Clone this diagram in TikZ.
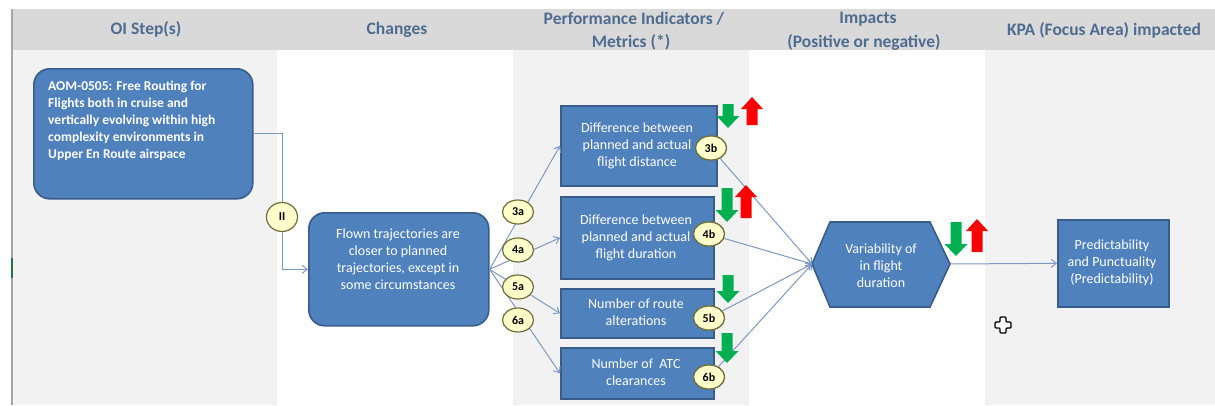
\documentclass[tikz,border=0pt]{standalone}
\usepackage{fontspec}
\setmainfont{Carlito}
\usetikzlibrary{arrows.meta,shapes.geometric}
\definecolor{boxfill}{HTML}{4F81BD}
\definecolor{boxline}{HTML}{385D8A}
\definecolor{conn}{HTML}{7D98C3}
\definecolor{hdr}{HTML}{D9D9D9}
\definecolor{colg}{HTML}{F2F2F2}
\definecolor{hdrtext}{HTML}{4E6C90}
\definecolor{badgefill}{HTML}{FFFFCC}
\definecolor{badgeline}{HTML}{6F6F3A}
\definecolor{okgreen}{HTML}{00B050}
\definecolor{badred}{HTML}{FF0000}
\definecolor{xlgreen}{HTML}{217346}
\newcommand\GDown[3]{\fill[okgreen] ({#1-5.5},#2) -- ({#1+5.5},#2) -- ({#1+5.5},{#3-12}) -- ({#1+11.5},{#3-12}) -- (#1,#3) -- ({#1-11.5},{#3-12}) -- ({#1-5.5},{#3-12}) -- cycle;}
\newcommand\RUp[3]{\fill[badred] ({#1-5.5},#3) -- ({#1+5.5},#3) -- ({#1+5.5},{#2+12}) -- ({#1+11},{#2+12}) -- (#1,#2) -- ({#1-11},{#2+12}) -- ({#1-5.5},{#2+12}) -- cycle;}
\begin{document}
\begin{tikzpicture}[x=1pt,y=-1pt,
  hdrlabel/.style={text=hdrtext,font=\fontsize{17.5}{21}\selectfont\bfseries,inner sep=0pt},
  box/.style={draw=boxline,line width=1.6pt,fill=boxfill,anchor=north west,inner sep=0pt},
  rbox/.style={box,rounded corners=16pt},
  boxtext/.style={text=white,font=\fontsize{14}{17}\selectfont,align=center,inner sep=0pt},
  badge/.style={ellipse,draw=badgeline,line width=1.2pt,fill=badgefill,minimum width=31pt,minimum height=24pt,inner sep=0pt,font=\fontsize{12}{14}\selectfont\bfseries},
  conn/.style={draw=conn,line width=1pt},
  arr/.style={conn,-{Straight Barb[length=5pt,width=8pt]}}]
\useasboundingbox (0,0) rectangle (1215,405);
% backgrounds
\fill[hdr] (12,9) rectangle (1215,50);
\fill[colg] (12,50) rectangle (277,405);
\fill[colg] (513,50) rectangle (749,405);
\fill[colg] (985,50) rectangle (1215,405);
\draw[gray!70,line width=1.2pt] (12,9) -- (12,405);
\draw[xlgreen,line width=2pt] (12,258) -- (12,278);
% header
\node[hdrlabel] (h1) at (146,29) {OI Step(s)};
\node[hdrlabel] (h2) at (397,30) {Changes};
\node[hdrlabel] (h3a) at (634,19) {Performance Indicators /};
\node[hdrlabel] (h3b) at (631,42) {Metrics (*)};
\node[hdrlabel] (h4a) at (868,19) {Impacts};
\node[hdrlabel] (h4b) at (864,42) {(Positive or negative)};
\node[hdrlabel] (h5) at (1104,30) {KPA (Focus Area) impacted};
% boxes
\node[rbox,minimum width=219pt,minimum height=130pt] (aom) at (33,68) {};
\node[rbox,minimum width=180pt,minimum height=113pt] (flown) at (308,212) {};
\node[box,minimum width=156pt,minimum height=80pt] (m3) at (560,105) {};
\node[box,minimum width=153pt,minimum height=82pt] (m4) at (560,196) {};
\node[box,minimum width=153pt,minimum height=49pt] (m5) at (560,288) {};
\node[box,minimum width=153pt,minimum height=51pt] (m6) at (560,347) {};
\node[box,minimum width=111pt,minimum height=87pt] (kpa) at (1057,219) {};
\coordinate (hexL) at (812,264);
\coordinate (hexR) at (950,264);
\fill[boxfill,draw=boxline,line width=1.6pt] (hexL) -- (830,222) -- (930,222) -- (hexR) -- (930,307) -- (830,307) -- cycle;
\node[badge,minimum width=31pt,minimum height=29pt] (bII) at (282,217) {II};
\draw[conn] (aom.east) -| (bII.north);
\draw[arr] (bII.south) |- (flown.west);
\draw[arr] (flown.east) -- (m3.west);
\draw[arr] (flown.east) -- (m4.west);
\draw[arr] (flown.east) -- (m5.west);
\draw[arr] (flown.east) -- (m6.west);
\node[badge] (b3) at (711,148) {3b};
\node[badge] (b4) at (709,234) {4b};
\node[badge] (b5) at (709,318) {5b};
\node[badge] (b6) at (709,377) {6b};
\draw[arr] (b3) -- (hexL);
\draw[arr] (b4) -- (hexL);
\draw[arr] (b5) -- (hexL);
\draw[arr] (b6) -- (hexL);
\draw[arr] (hexR) -- (kpa.west);
% redraw badges on top
\node[badge] at (711,148) {3b};
\node[badge] at (709,234) {4b};
\node[badge] at (709,318) {5b};
\node[badge] at (709,377) {6b};
\node[badge] (a3) at (518,212) {3a};
\node[badge] (a4) at (518,250) {4a};
\node[badge] (a5) at (518,287) {5a};
\node[badge] (a6) at (518,320) {6a};
% texts
\node[text=white,font=\fontsize{13.5}{17}\selectfont\bfseries,align=left,anchor=north west,inner sep=0pt] (aomt) at (48,81) {AOM-0505: Free Routing for\\Flights both in cruise and\\vertically evolving within high\\complexity environments in\\Upper En Route airspace};
\node[boxtext] (flownt) at (398,259) {Flown trajectories are\\closer to planned\\trajectories, except in\\some circumstances};
\node[boxtext] (m3t) at (637,146) {Difference between\\planned and actual\\flight distance};
\node[boxtext] (m4t) at (636,238) {Difference between\\planned and actual\\flight duration};
\node[boxtext] (m5t) at (636,312) {Number of route\\alterations};
\node[boxtext] (m6t) at (636,372) {Number of~ ATC\\clearances};
\node[boxtext] (hext) at (881,266) {Variability of\\in flight\\duration};
\node[boxtext] (kpat) at (1112,263) {Predictability\\and Punctuality\\(Predictability)};
% trend arrows
\GDown{728}{104}{128}
\RUp{752}{97}{125}
\GDown{727}{188}{222}
\RUp{746}{185}{218}
\GDown{728}{275}{303}
\GDown{727}{333}{363}
\GDown{956}{222}{256}
\RUp{977}{219}{252}
% cursor
\draw[black,line width=1.4pt,fill=white,rounded corners=1pt] (1000,317) -- (1006,317) -- (1006,322) -- (1011,322) -- (1011,328) -- (1006,328) -- (1006,333) -- (1000,333) -- (1000,328) -- (995,328) -- (995,322) -- (1000,322) -- cycle;
\end{tikzpicture}
\end{document}
